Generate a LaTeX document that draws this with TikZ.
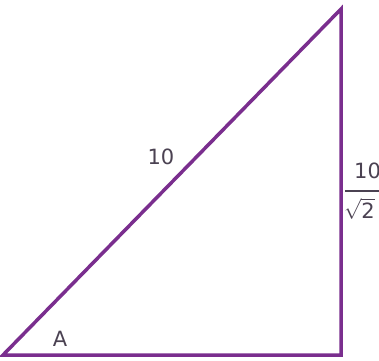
\documentclass[tikz,border=0pt]{standalone}
\usepackage{fontspec}
\setmainfont{DejaVu Sans}
\setsansfont{DejaVu Sans}
\usepackage{amsmath}
\usetikzlibrary{positioning}
\definecolor{triviolet}{HTML}{7A2E8E}
\definecolor{labelgray}{HTML}{4B4252}

\begin{document}
\begin{tikzpicture}[x=1pt, y=-1pt,
    side/.style={draw=triviolet, line width=3.5pt, line join=miter},
    lbl/.style={text=labelgray, font=\fontsize{21}{24}\selectfont, inner sep=0pt}
  ]
    \useasboundingbox (0,0) rectangle (379,360);
    \clip (0,0) rectangle (379,360);
    \coordinate (a) at (3,355);
    \coordinate (b) at (341,355);
    \coordinate (c) at (341,9);

    \draw[side] (a) -- (b) -- (c) -- cycle;

    \node[lbl] (hyp) at (161,157) {10};
    \node[lbl] (ang) at (60,339) {A};

    % fraction beside the vertical side
    \node[lbl, anchor=west] (num) at (354,171) {10};
    \node[lbl, anchor=west] (den) at (344,209) {$\sqrt{\text{2}}$};
    \draw[labelgray, line width=1.4pt] (345,191) -- (num.south east |- 0,191);
  \end{tikzpicture}
\end{document}
